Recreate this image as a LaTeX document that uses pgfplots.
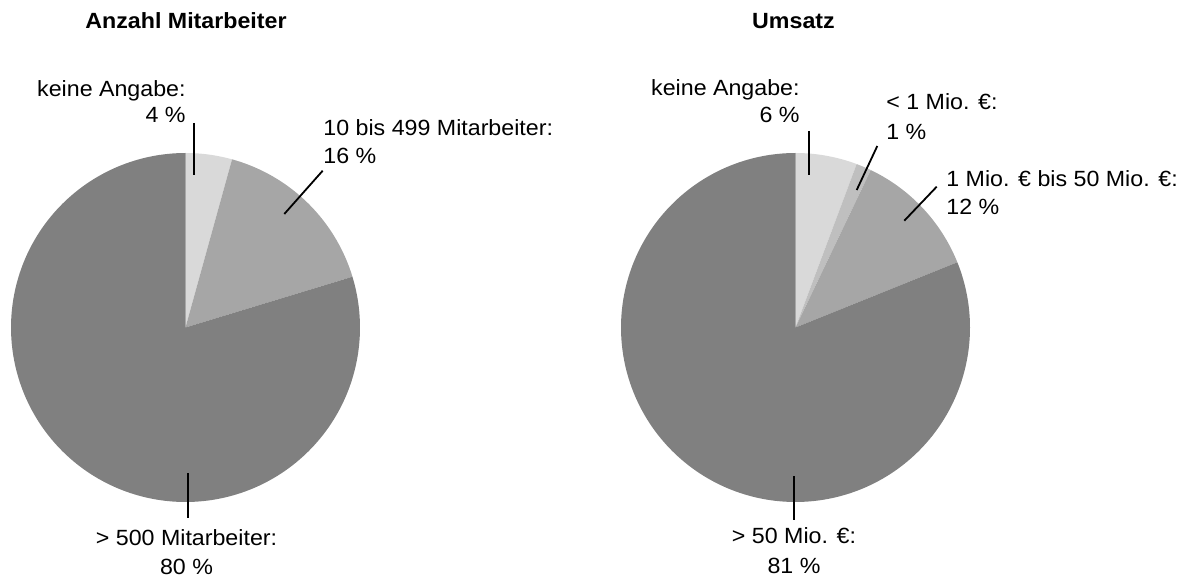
\documentclass[border=0pt]{standalone}
\usepackage{pgfplots}
\pgfplotsset{compat=1.18}
\usepackage{fontspec}
\setmainfont{Liberation Sans}
\usepackage{graphicx}
\definecolor{cA}{HTML}{D9D9D9}
\definecolor{cB}{HTML}{BFBFBF}
\definecolor{cC}{HTML}{A6A6A6}
\definecolor{cD}{HTML}{808080}
\newcommand\st[1]{\scalebox{1.055}[1]{#1}}
\begin{document}
\begin{tikzpicture}[x=0.5pt,y=0.5pt]
\fontsize{11}{13}\selectfont
\path[use as bounding box] (0,0) rectangle (1184,579);
\pgfplotsset{pie/.style={hide axis, scale only axis, width=174.5pt, height=174.5pt,
  xmin=-1,xmax=1,ymin=-1,ymax=1, anchor=center, clip=false}}
% ---------- Anzahl Mitarbeiter: 4.3 / 16.0 / 79.7 ----------
\begin{axis}[pie, at={(92.75pt,125.75pt)}]
\addplot[fill=cA, draw=none, domain={90-3.6*4.3}:90, samples=30, variable=\t]
  ({cos(\t)},{sin(\t)}) -- (axis cs:0,0) -- cycle;
\addplot[fill=cC, draw=none, domain={90-3.6*(4.3+16.0)}:{90-3.6*4.3}, samples=60, variable=\t]
  ({cos(\t)},{sin(\t)}) -- (axis cs:0,0) -- cycle;
\addplot[fill=cD, draw=none, domain={90-3.6*(4.3+16.0+79.7)}:{90-3.6*(4.3+16.0)}, samples=200, variable=\t]
  ({cos(\t)},{sin(\t)}) -- (axis cs:0,0) -- cycle;
\end{axis}
% ---------- Umsatz: 5.7 / 1.4 / 11.8 / 81.1 ----------
\begin{axis}[pie, at={(397.75pt,125.75pt)}]
\addplot[fill=cA, draw=none, domain={90-3.6*5.7}:90, samples=30, variable=\t]
  ({cos(\t)},{sin(\t)}) -- (axis cs:0,0) -- cycle;
\addplot[fill=cB, draw=none, domain={90-3.6*(5.7+1.4)}:{90-3.6*5.7}, samples=10, variable=\t]
  ({cos(\t)},{sin(\t)}) -- (axis cs:0,0) -- cycle;
\addplot[fill=cC, draw=none, domain={90-3.6*(5.7+1.4+11.8)}:{90-3.6*(5.7+1.4)}, samples=50, variable=\t]
  ({cos(\t)},{sin(\t)}) -- (axis cs:0,0) -- cycle;
\addplot[fill=cD, draw=none, domain={90-3.6*100}:{90-3.6*(5.7+1.4+11.8)}, samples=200, variable=\t]
  ({cos(\t)},{sin(\t)}) -- (axis cs:0,0) -- cycle;
\end{axis}
% ---------- titles ----------
\node[anchor=base, inner sep=0] at (186,{579-28.5}) {\bfseries\st{Anzahl Mitarbeiter}};
\node[anchor=base, inner sep=0] at (793.5,{579-29}) {\bfseries\st{Umsatz}};
% ---------- leader lines ----------
\begin{scope}[line width=0.9pt]
\draw (194,{579-123}) -- (194,{579-175});
\draw (322.7,{579-170.7}) -- (284.3,{579-214});
\draw (187.7,{579-473}) -- (187.7,{579-518});
\draw (809,{579-131}) -- (809,{579-175});
\draw (877.3,{579-146}) -- (856.7,{579-190});
\draw (936.7,{579-186.7}) -- (904.3,{579-220.7});
\draw (793.7,{579-476}) -- (793.7,{579-520});
\end{scope}
% ---------- labels ----------
\begin{scope}[every node/.style={inner sep=0}]
\node[anchor=base east] at (186,{579-97}) {\st{keine Angabe:}};
\node[anchor=base east] at (186,{579-123}) {\st{4 \%}};
\node[anchor=base west] at (323,{579-135.5}) {\st{10 bis 499 Mitarbeiter:}};
\node[anchor=base west] at (323,{579-163.5}) {\st{16 \%}};
\node[anchor=base] at (186.5,{579-545.5}) {\st{> 500 Mitarbeiter:}};
\node[anchor=base] at (186.5,{579-574}) {\st{80 \%}};
\node[anchor=base east] at (800,{579-96}) {\st{keine Angabe:}};
\node[anchor=base east] at (800,{579-123}) {\st{6 \%}};
\node[anchor=base west] at (886,{579-110}) {\st{< 1 Mio. €:}};
\node[anchor=base west] at (886,{579-140}) {\st{1 \%}};
\node[anchor=base west] at (946,{579-187}) {\st{1 Mio. € bis 50 Mio. €:}};
\node[anchor=base west] at (946,{579-215}) {\st{12 \%}};
\node[anchor=base] at (794,{579-543.5}) {\st{> 50 Mio. €:}};
\node[anchor=base] at (794,{579-573}) {\st{81 \%}};
\end{scope}
\end{tikzpicture}
\end{document}
